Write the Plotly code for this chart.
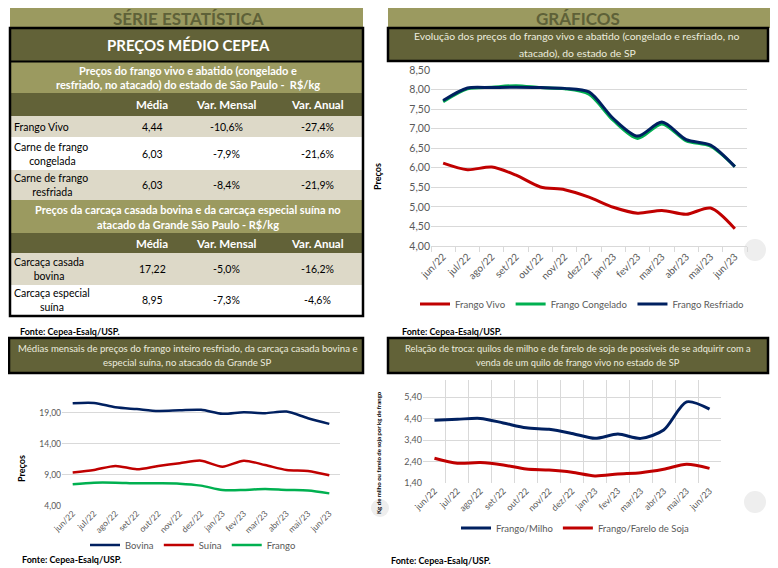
import plotly.graph_objects as go

# the page adds an 8px body margin, so the figure is drawn 8px in from the corner
OFF = 8
W, H = 778 - OFF, 568 - OFF
FONT = "Lato"


def px(x):
    return (x - OFF) / W


def py(y):
    return 1 - (y - OFF) / H


# ---------------- data ----------------
months = ["jun/22", "jul/22", "ago/22", "set/22", "out/22", "nov/22", "dez/22",
          "jan/23", "fev/23", "mar/23", "abr/23", "mai/23", "jun/23"]

frango_vivo = [6.12, 5.95, 6.02, 5.81, 5.51, 5.44, 5.25, 4.99, 4.84, 4.91, 4.81, 4.97, 4.44]
frango_congelado = [7.69, 8.02, 8.06, 8.10, 8.05, 8.02, 7.88, 7.21, 6.75, 7.12, 6.69, 6.55, 6.03]
frango_resfriado = [7.72, 8.04, 8.05, 8.06, 8.05, 8.03, 7.94, 7.26, 6.81, 7.17, 6.72, 6.58, 6.03]

bovina = [20.55, 20.60, 19.90, 19.60, 19.30, 19.40, 19.48, 18.84, 19.10, 18.95, 19.20, 18.13, 17.22]
suina = [9.38, 9.80, 10.45, 9.92, 10.45, 10.90, 11.30, 10.34, 11.30, 10.60, 9.80, 9.65, 8.95]
frango_inteiro = [7.50, 7.76, 7.76, 7.65, 7.65, 7.60, 7.28, 6.58, 6.58, 6.74, 6.58, 6.50, 6.03]

frango_milho = [4.33, 4.37, 4.41, 4.20, 3.97, 3.90, 3.71, 3.48, 3.68, 3.48, 3.87, 5.18, 4.84]
frango_soja = [2.55, 2.32, 2.35, 2.24, 2.05, 2.00, 1.90, 1.73, 1.82, 1.88, 2.04, 2.27, 2.08]

ticks_chart1 = [4.0, 4.5, 5.0, 5.5, 6.0, 6.5, 7.0, 7.5, 8.0, 8.5]
ticks_chart2 = [4.0, 9.0, 14.0, 19.0]
ticks_chart3 = [1.4, 2.4, 3.4, 4.4, 5.4]

table_cols = ["Média", "Var. Mensal", "Var. Anual"]
table1_items = ["Frango Vivo", "Carne de frango<br> congelada", "Carne de frango<br> resfriada"]
table1_media = ["4,44", "6,03", "6,03"]
table1_mensal = ["-10,6%", "-7,9%", "-8,4%"]
table1_anual = ["-27,4%", "-21,6%", "-21,9%"]
table2_items = ["Carcaça casada<br>bovina", "Carcaça especial<br>suína"]
table2_media = ["17,22", "8,95"]
table2_mensal = ["-5,0%", "-7,3%"]
table2_anual = ["-16,2%", "-4,6%"]

# ---------------- colours ----------------
OLIVE = "#9B9A60"
DARK = "#626238"
HEADTXT = "#5E6138"
BEIGE = "#DDD9C8"
RED = "#C00000"
GREEN = "#00B050"
NAVY = "#002060"
GRID = "#D9D9D9"
TICK = "#595959"
LIGHTTXT = "#ECECDF"

xs = list(range(len(months)))

fig = go.Figure()

# chart 1
fig.add_trace(go.Scatter(x=xs, y=frango_vivo, name="Frango Vivo", mode="lines",
                         line=dict(color=RED, width=3, shape="spline", smoothing=0.8),
                         xaxis="x", yaxis="y", legend="legend"))
fig.add_trace(go.Scatter(x=xs, y=frango_congelado, name="Frango Congelado", mode="lines",
                         line=dict(color=GREEN, width=3, shape="spline", smoothing=0.8),
                         xaxis="x", yaxis="y", legend="legend"))
fig.add_trace(go.Scatter(x=xs, y=frango_resfriado, name="Frango Resfriado", mode="lines",
                         line=dict(color=NAVY, width=3, shape="spline", smoothing=0.8),
                         xaxis="x", yaxis="y", legend="legend"))
# chart 2
fig.add_trace(go.Scatter(x=xs, y=bovina, name="Bovina", mode="lines",
                         line=dict(color=NAVY, width=2.5, shape="spline", smoothing=0.8),
                         xaxis="x2", yaxis="y2", legend="legend2"))
fig.add_trace(go.Scatter(x=xs, y=suina, name="Suína", mode="lines",
                         line=dict(color=RED, width=2.5, shape="spline", smoothing=0.8),
                         xaxis="x2", yaxis="y2", legend="legend2"))
fig.add_trace(go.Scatter(x=xs, y=frango_inteiro, name="Frango", mode="lines",
                         line=dict(color=GREEN, width=2.5, shape="spline", smoothing=0.8),
                         xaxis="x2", yaxis="y2", legend="legend2"))
# chart 3
fig.add_trace(go.Scatter(x=xs, y=frango_milho, name="Frango/Milho", mode="lines",
                         line=dict(color=NAVY, width=3, shape="spline", smoothing=0.8),
                         xaxis="x3", yaxis="y3", legend="legend3"))
fig.add_trace(go.Scatter(x=xs, y=frango_soja, name="Frango/Farelo de Soja", mode="lines",
                         line=dict(color=RED, width=3, shape="spline", smoothing=0.8),
                         xaxis="x3", yaxis="y3", legend="legend3"))

shapes = []
annotations = []


def rect(x0, y0, x1, y1, fill, line_color=None, lw=0, layer="below"):
    shapes.append(dict(type="rect", xref="paper", yref="paper",
                       x0=px(x0), x1=px(x1), y0=py(y1), y1=py(y0),
                       fillcolor=fill, layer=layer,
                       line=dict(color=line_color or fill, width=lw)))


def text(x, y, s, size=11, color="black", bold=False, xanchor="center", angle=0):
    if bold:
        s = "<b>" + s + "</b>"
    annotations.append(dict(x=px(x), y=py(y), xref="paper", yref="paper", text=s,
                            showarrow=False, xanchor=xanchor, yanchor="middle",
                            textangle=angle,
                            font=dict(family=FONT, size=size, color=color)))


# decorative faint circles
for cx, cy, r in [(755, 250, 11), (755, 502, 11), (380, 508, 9)]:
    shapes.append(dict(type="circle", xref="paper", yref="paper",
                       x0=px(cx - r), x1=px(cx + r), y0=py(cy + r), y1=py(cy - r),
                       fillcolor="#EEEEEE", line=dict(width=0), layer="below"))

# ---------------- left table ----------------
rect(10, 0, 363, 28, OLIVE)
text(188, 18.5, "SÉRIE ESTATÍSTICA", size=17, color=HEADTXT, bold=True)

rect(10, 28, 363, 61, DARK)
text(188, 45, "PREÇOS MÉDIO CEPEA", size=15, color="white", bold=True)
rect(10, 62, 363, 93, OLIVE)
text(188, 70, "Preços do frango vivo e abatido (congelado e", size=11, color="white", bold=True)
text(188, 85, "resfriado, no atacado) do estado de São Paulo -  R$/kg", size=11, color="white", bold=True)

col_x = [152, 226, 317]
rect(10, 93, 363, 116, DARK)
for cx, c in zip(col_x, table_cols):
    text(cx, 104, c, size=11.5, color="white", bold=True)

rows1 = [(116, 137, BEIGE), (137, 170, "white"), (170, 200, BEIGE)]
for (y0, y1, fill), item, m, vm, va in zip(rows1, table1_items, table1_media, table1_mensal, table1_anual):
    rect(10, y0, 363, y1, fill)
    yc = (y0 + y1) / 2
    text(12, yc, item, size=10.5, xanchor="left")
    text(col_x[0], yc, m, size=10.5)
    text(col_x[1], yc, vm, size=10.5)
    text(col_x[2], yc, va, size=10.5)

rect(10, 200, 363, 233, OLIVE)
text(188, 209, "Preços da carcaça casada bovina e da carcaça especial suína no", size=11, color="white", bold=True)
text(188, 225, "atacado da Grande São Paulo - R$/kg", size=11, color="white", bold=True)
rect(10, 233, 363, 253, DARK)
for cx, c in zip(col_x, table_cols):
    text(cx, 243, c, size=11.5, color="white", bold=True)

rows2 = [(253, 285, BEIGE), (285, 315, "white")]
for (y0, y1, fill), item, m, vm, va in zip(rows2, table2_items, table2_media, table2_mensal, table2_anual):
    rect(10, y0, 363, y1, fill)
    yc = (y0 + y1) / 2
    text(12, yc, item, size=10.5, xanchor="left")
    text(col_x[0], yc, m, size=10.5)
    text(col_x[1], yc, vm, size=10.5)
    text(col_x[2], yc, va, size=10.5)

# table borders
shapes.append(dict(type="rect", xref="paper", yref="paper", x0=px(10), x1=px(363),
                   y0=py(316), y1=py(28), line=dict(color="black", width=2.5), layer="above"))
shapes.append(dict(type="line", xref="paper", yref="paper", x0=px(10), x1=px(363),
                   y0=py(61.5), y1=py(61.5), line=dict(color="black", width=2), layer="above"))

text(18, 331, "Fonte: Cepea-Esalq/USP.", size=9, bold=True, xanchor="left")

# ---------------- right header ----------------
rect(388, 0, 770, 28, OLIVE)
text(578, 18.5, "GRÁFICOS", size=17, color=HEADTXT, bold=True)
rect(388, 28, 768, 61, DARK, "black", 2.5)
text(577, 36, "Evolução dos preços do frango vivo e abatido (congelado e resfriado, no", size=10.4, color=LIGHTTXT)
text(577, 53, "atacado), do estado de SP", size=10.4, color=LIGHTTXT)
text(377, 177, "Preços", size=9, bold=True, angle=-90)
text(400, 331, "Fonte: Cepea-Esalq/USP.", size=9, bold=True, xanchor="left")

# ---------------- bottom-left header ----------------
rect(9, 338, 363, 373, DARK, "black", 2.5)
text(187, 348, "Médias mensais de preços do frango inteiro resfriado, da carcaça casada bovina e", size=9.6, color=LIGHTTXT)
text(187, 362, "especial suína, no atacado da Grande SP", size=9.6, color=LIGHTTXT)
text(21, 468, "Preços", size=9, bold=True, angle=-90)
text(20, 559, "Fonte: Cepea-Esalq/USP.", size=9, bold=True, xanchor="left")

# ---------------- bottom-right header ----------------
rect(388, 338, 768, 373, DARK, "black", 2.5)
text(578, 348, "Relação de troca: quilos de milho e de farelo de soja de possíveis de se adquirir com a", size=9.3, color=LIGHTTXT)
text(578, 362, "venda de um quilo de frango vivo no estado de SP", size=9.3, color=LIGHTTXT)
text(378, 453, "Kg de milho ou farelo de soja por kg de frango", size=6, bold=True, angle=-90)
text(389, 560, "Fonte: Cepea-Esalq/USP.", size=9, bold=True, xanchor="left")

tickfont = dict(family=FONT, color=TICK)

fig.update_layout(
    width=W, height=H, autosize=False,
    margin=dict(l=0, r=0, t=0, b=0, pad=0, autoexpand=False),
    paper_bgcolor="white", plot_bgcolor="rgba(0,0,0,0)",
    separators=",.",
    font=dict(family=FONT),
    shapes=shapes, annotations=annotations,
    xaxis=dict(domain=[px(431), px(747)], anchor="y", range=[-0.5, 12.5],
               tickmode="array", tickvals=xs, ticktext=months, tickangle=-45,
               tickfont=dict(size=10, **tickfont), showgrid=False, zeroline=False,
               showline=True, linecolor=GRID, linewidth=1, ticks="",
               minor=dict(tick0=0.5, dtick=1, ticks="outside", ticklen=5,
                          tickcolor=GRID, showgrid=False)),
    yaxis=dict(domain=[py(246), py(70)], anchor="x", range=[4, 8.5],
               tickmode="array", tickvals=ticks_chart1, tickformat=".2f",
               tickfont=dict(size=10.5, **tickfont), showgrid=True, gridcolor=GRID,
               zeroline=False, ticks=""),
    xaxis2=dict(domain=[px(62), px(340)], anchor="y2", range=[-0.5, 12.5],
                tickmode="array", tickvals=xs, ticktext=months, tickangle=-45,
                tickfont=dict(size=8.5, **tickfont), showgrid=False, zeroline=False,
                showline=False, ticks=""),
    yaxis2=dict(domain=[py(506), py(388)], anchor="x2", range=[4, 23],
                tickmode="array", tickvals=ticks_chart2, tickformat=".2f",
                tickfont=dict(size=8.5, **tickfont), showgrid=True, gridcolor=GRID,
                zeroline=False, ticks=""),
    xaxis3=dict(domain=[px(423), px(721)], anchor="y3", range=[-0.5, 12.5],
                tickmode="array", tickvals=xs, ticktext=months, tickangle=-45,
                tickfont=dict(size=9, **tickfont), showgrid=False, zeroline=False,
                showline=False, ticks="",
                minor=dict(tick0=0.5, dtick=1, showgrid=True, gridcolor=GRID, ticks="")),
    yaxis3=dict(domain=[py(483), py(380)], anchor="x3", range=[1.4, 6.2],
                tickmode="array", tickvals=ticks_chart3, tickformat=".2f",
                tickfont=dict(size=9, **tickfont), showgrid=True, gridcolor=GRID,
                zeroline=False, ticks=""),
    legend=dict(orientation="h", x=px(415), y=py(304), xanchor="left", yanchor="middle",
                font=dict(family=FONT, size=9.6, color=TICK), bgcolor="rgba(0,0,0,0)",
                itemwidth=30),
    legend2=dict(orientation="h", x=px(85), y=py(545), xanchor="left", yanchor="middle",
                 font=dict(family=FONT, size=9.5, color=TICK), bgcolor="rgba(0,0,0,0)",
                 itemwidth=30),
    legend3=dict(orientation="h", x=px(456), y=py(528), xanchor="left", yanchor="middle",
                 font=dict(family=FONT, size=9.5, color=TICK), bgcolor="rgba(0,0,0,0)",
                 itemwidth=30),
)

fig.write_html("out.html")
